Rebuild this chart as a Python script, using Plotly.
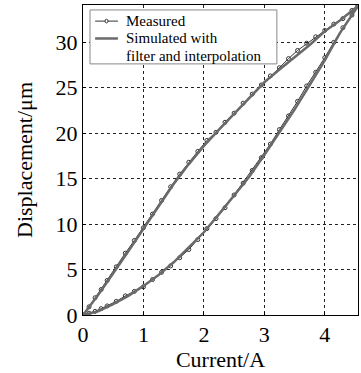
import plotly.graph_objects as go

# Measured hysteresis loop: ascending (lower) branch then descending (upper) branch
meas_up_x = [0.00,0.10,0.20,0.30,0.40,0.55,0.70,0.85,1.00,1.15,1.30,1.45,1.60,1.75,1.90,2.05,2.20,2.35,2.50,2.65,2.80,2.95,3.10,3.25,3.40,3.55,3.70,3.85,4.00,4.15,4.30,4.45,4.55]
meas_up_y = [0.0,0.2,0.4,0.7,1.0,1.5,2.1,2.6,3.1,3.9,4.7,5.4,6.3,7.2,8.3,9.5,10.6,11.8,13.2,14.5,15.9,17.3,18.8,20.4,21.9,23.5,25.2,26.7,28.3,30.0,31.6,33.0,34.0]
meas_dn_x = [4.55,4.45,4.30,4.15,4.00,3.85,3.70,3.55,3.40,3.25,3.10,2.95,2.80,2.65,2.50,2.35,2.20,2.05,1.90,1.75,1.60,1.45,1.30,1.15,1.00,0.85,0.70,0.55,0.40,0.30,0.20,0.10,0.00]
meas_dn_y = [34.0,33.5,32.6,32.0,31.3,30.6,29.9,29.1,28.2,27.2,26.3,25.3,24.3,23.3,22.2,21.2,20.1,19.2,18.0,16.8,15.5,14.1,12.6,11.1,9.6,8.2,6.8,5.3,3.8,2.8,1.9,0.9,0.0]

# Simulated loop (filter and interpolation)
sim_up_x = [0.00,0.25,0.50,0.75,1.00,1.25,1.50,1.75,2.00,2.25,2.50,2.75,3.00,3.25,3.50,3.75,4.00,4.25,4.55]
sim_up_y = [0.0,0.4,1.2,2.1,3.2,4.4,5.8,7.4,9.1,11.1,13.1,15.2,17.6,20.1,22.6,25.3,28.0,31.0,34.0]
sim_dn_x = [4.55,4.25,4.00,3.75,3.50,3.25,3.00,2.75,2.50,2.25,2.00,1.75,1.50,1.25,1.00,0.75,0.50,0.25,0.00]
sim_dn_y = [34.0,32.4,31.2,29.7,28.4,27.0,25.6,23.9,22.1,20.4,18.6,16.6,14.4,11.9,9.4,7.0,4.6,2.2,0.0]

x_ticks = [0, 1, 2, 3, 4]
y_ticks = [0, 5, 10, 15, 20, 25, 30]

legend_labels = ["Measured", "Simulated with", "filter and interpolation"]

serif = "Liberation Serif"
meas_color = "#333333"
sim_color = "#6a6a6a"

fig = go.Figure()
fig.add_trace(go.Scatter(
    x=meas_up_x + meas_dn_x, y=meas_up_y + meas_dn_y,
    mode="lines+markers", name="Measured",
    line=dict(color=meas_color, width=1),
    marker=dict(symbol="circle-open", size=4, color=meas_color, line=dict(width=1)),
    showlegend=False,
))
fig.add_trace(go.Scatter(
    x=sim_up_x + sim_dn_x, y=sim_up_y + sim_dn_y,
    mode="lines", name="Simulated with filter and interpolation",
    line=dict(color=sim_color, width=2.5),
    showlegend=False,
))

# Legend box drawn in paper coordinates (tight line spacing as in the reference)
shapes = [
    dict(type="rect", xref="paper", yref="paper", x0=0.0255, x1=0.705, y0=0.810, y1=0.984,
         line=dict(color="#888888", width=1), fillcolor="white", layer="above"),
    dict(type="line", xref="paper", yref="paper", x0=0.044, x1=0.127, y0=0.948, y1=0.948,
         line=dict(color=meas_color, width=1), layer="above"),
    dict(type="circle", xref="paper", yref="paper", x0=0.080, x1=0.091, y0=0.942, y1=0.954,
         line=dict(color=meas_color, width=1), fillcolor="white", layer="above"),
    dict(type="line", xref="paper", yref="paper", x0=0.044, x1=0.127, y0=0.892, y1=0.892,
         line=dict(color=sim_color, width=2.5), layer="above"),
]
annotations = []
for lab, py in zip(legend_labels, [0.948, 0.892, 0.835]):
    annotations.append(dict(
        text=lab, xref="paper", yref="paper", x=0.152, y=py,
        xanchor="left", yanchor="middle", showarrow=False,
        font=dict(family=serif, size=15, color="black"),
        borderpad=0,
    ))

fig.update_layout(
    width=361, height=373,
    margin=dict(l=83, r=3, t=5, b=58),
    paper_bgcolor="white", plot_bgcolor="white",
    font=dict(family=serif, size=22, color="black"),
    showlegend=False,
    shapes=shapes,
    annotations=annotations,
    xaxis=dict(
        range=[0, 4.55], tickvals=x_ticks, ticktext=[str(v) for v in x_ticks],
        showgrid=True, gridcolor="#222222", griddash="dot", gridwidth=1,
        showline=True, linecolor="black", linewidth=1, mirror=True,
        ticks="inside", ticklen=3, tickcolor="black",
        zeroline=False,
        title=dict(text="Current/A", font=dict(family=serif, size=22), standoff=0),
        tickfont=dict(family=serif, size=22),
    ),
    yaxis=dict(
        range=[0, 34.1], tickvals=y_ticks, ticktext=[str(v) for v in y_ticks],
        showgrid=True, gridcolor="#222222", griddash="dot", gridwidth=1,
        showline=True, linecolor="black", linewidth=1, mirror=True,
        ticks="inside", ticklen=3, tickcolor="black",
        zeroline=False,
        title=dict(text="Displacement/μm", font=dict(family=serif, size=22), standoff=16),
        tickfont=dict(family=serif, size=22),
    ),
)

fig.write_html("out.html")
